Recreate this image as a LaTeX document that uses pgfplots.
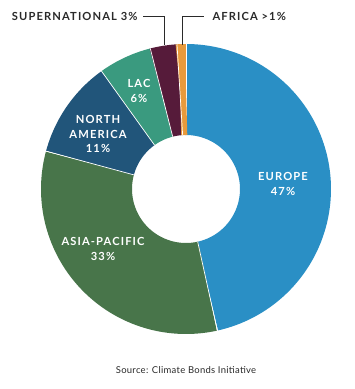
\documentclass[border=0pt]{standalone}
\usepackage{pgfplots}
\pgfplotsset{compat=1.18}
\usepackage{fontspec}
\setmainfont{Lato}
\newfontfamily\lblfont{Lato}[LetterSpace=10]
\newfontfamily\srcfont{Lato}[LetterSpace=3]
\definecolor{cEU}{HTML}{2A8FC5}
\definecolor{cAP}{HTML}{48754A}
\definecolor{cNA}{HTML}{21557A}
\definecolor{cLAC}{HTML}{3A9A7F}
\definecolor{cSUP}{HTML}{561B3A}
\definecolor{cAF}{HTML}{E89A3C}
\definecolor{txt}{HTML}{2A2A2A}
% shares (%), clockwise from the top
\def\vEU{47}\def\vAP{33}\def\vNA{11}\def\vLAC{6}\def\vSUP{3}\def\vAF{1}
\pgfmathsetmacro\tot{\vEU+\vAP+\vNA+\vLAC+\vSUP+\vAF}
\def\rin{54}\def\rout{145}
\pgfmathsetmacro\rmid{(\rin+\rout)/2}
\pgfmathsetmacro\rw{\rout-\rin}
\newcommand\slice[3]{%
  \pgfmathsetmacro\aS{90-((#1)/\tot)*360}%
  \pgfmathsetmacro\aE{90-((#1+#2)/\tot)*360}%
  \edef\tmp{\noexpand\addplot[data cs=polar, domain=\aE:\aS, samples=90, line width=\rw bp, color=#3, line join=round] (x, \rmid);}%
  \tmp
  \edef\tmp{\noexpand\addplot[data cs=polar, white, line width=0.7bp] coordinates {(\aS,\rin) (\aS,\rout)};}%
  \tmp
}
\tikzset{lbl/.style={font=\lblfont\fontsize{11.2}{15}\selectfont\bfseries}}
\begin{document}
\begin{tikzpicture}
\begin{axis}[hide axis, x=1bp, y=1bp, xmin=-186, xmax=169, ymin=-200, ymax=189, clip=false]
\path (axis cs:-186,-200) rectangle (axis cs:169,189);
\slice{0}{\vEU}{cEU}
\slice{\vEU}{\vAP}{cAP}
\slice{\vEU+\vAP}{\vNA}{cNA}
\slice{\vEU+\vAP+\vNA}{\vLAC}{cLAC}
\slice{\vEU+\vAP+\vNA+\vLAC}{\vSUP}{cSUP}
\slice{\vEU+\vAP+\vNA+\vLAC+\vSUP}{\vAF}{cAF}
% labels
\node[lbl, white, align=center] at (axis cs:97,5) {EUROPE\\47\%};
\node[lbl, white, align=center] at (axis cs:-83,-60) {ASIA-PACIFIC\\33\%};
\node[lbl, white, align=center] at (axis cs:-88,55) {NORTH\\AMERICA\\11\%};
\node[lbl, white, align=center] at (axis cs:-47,98) {LAC\\6\%};
\addplot[txt, line width=0.8bp] coordinates {(-43,173) (-22,173) (-22,144)};
\addplot[txt, line width=0.8bp] coordinates {(-4,144) (-4,173) (18,173)};
\node[lbl, txt, anchor=east] at (axis cs:-45,173) {SUPERNATIONAL 3\%};
\node[lbl, txt, anchor=west] at (axis cs:23,173) {AFRICA >1\%};
\node[txt, font=\srcfont\fontsize{9.5}{11}\selectfont] at (axis cs:0,-181) {Source: Climate Bonds Initiative};
\end{axis}
\end{tikzpicture}
\end{document}
